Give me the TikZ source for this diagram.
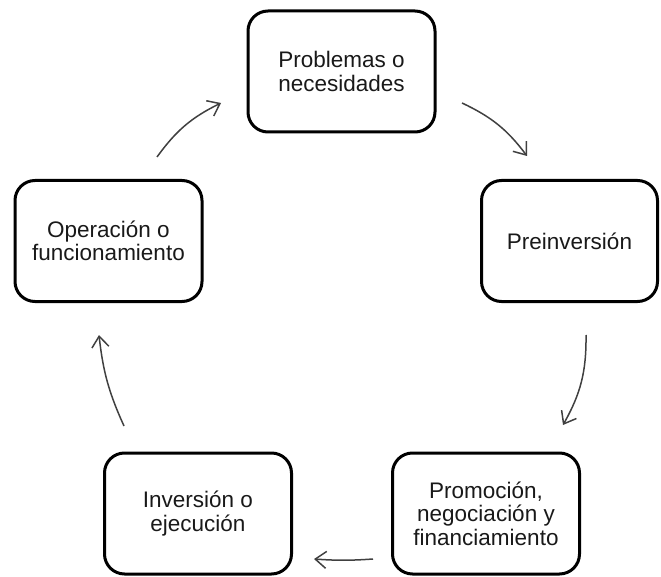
\documentclass[tikz,border=0pt]{standalone}
\usepackage{fontspec}
\setmainfont{Liberation Sans}
\usetikzlibrary{arrows.meta}
\begin{document}
\begin{tikzpicture}[x=1pt,y=-1pt,
  stage/.style={draw=black, line width=3pt, rounded corners=20pt,
    minimum width=187pt, minimum height=121pt, inner sep=0pt,
    align=center, text=black!90,
    font=\fontsize{22.5}{23.5}\selectfont},
  flow/.style={draw=black!75, line width=1.5pt,
    -{Straight Barb[length=11pt,width=17pt,line width=1.5pt]}}]
\useasboundingbox (0,0) rectangle (661,577);

% project cycle stages
\node[stage] (prob) at (341.5,71.5) {Problemas o\\necesidades};
\node[stage, minimum width=176pt] (pre) at (569.5,241) {Preinversi\'on};
\node[stage] (prom) at (486,513.5) {Promoci\'on,\\negociaci\'on y\\financiamiento};
\node[stage] (inv) at (198,513.5) {Inversi\'on o\\ejecuci\'on};
\node[stage] (oper) at (108.5,241) {Operaci\'on o\\funcionamiento};

% free ends of the arrows between stages
\coordinate (a1s) at (157,157);
\coordinate (a1e) at (221,103);
\coordinate (a2s) at (462,103);
\coordinate (a2e) at (527,156);
\coordinate (a3s) at (586,335);
\coordinate (a3e) at (563,425);
\coordinate (a4s) at (373,559);
\coordinate (a4e) at (314,559);
\coordinate (a5s) at (124,426);
\coordinate (a5e) at (99,335);

\draw[flow] (a1s) to[bend left=14] (a1e);
\draw[flow] (a2s) to[bend left=14] (a2e);
\draw[flow] (a3s) to[bend left=15] (a3e);
\draw[flow] (a4s) to[bend left=4] (a4e);
\draw[flow] (a5s) to[bend left=9] (a5e);
\end{tikzpicture}
\end{document}
